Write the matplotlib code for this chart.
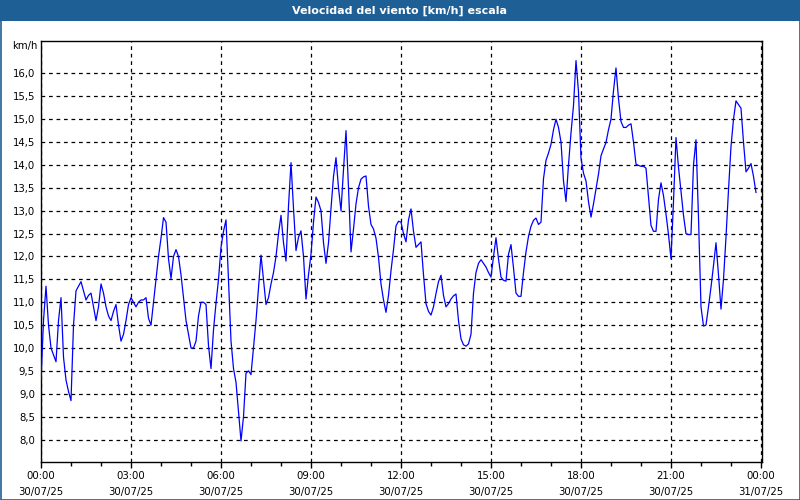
import matplotlib
matplotlib.use("Agg")
import matplotlib.pyplot as plt
import numpy as np
from matplotlib.patches import Rectangle
from matplotlib.ticker import MultipleLocator, FixedLocator, FuncFormatter

title = "Velocidad del viento [km/h] escala"
unit_label = "km/h"
interval_min = 5

# 5-minute wind speed readings, one row per hour (00:00 .. 23:50)
h00 = [9.3, 10.6, 11.35, 10.5, 10.0, 9.85, 9.7, 10.6, 11.1, 9.8, 9.3, 9.05]
h01 = [8.85, 10.5, 11.25, 11.35, 11.45, 11.25, 11.05, 11.15, 11.2, 10.9, 10.6, 10.9]
h02 = [11.4, 11.2, 10.9, 10.7, 10.6, 10.8, 10.95, 10.5, 10.15, 10.3, 10.6, 10.95]
h03 = [11.1, 11.0, 10.9, 11.0, 11.05, 11.05, 11.1, 10.65, 10.5, 11.0, 11.5, 12.0]
h04 = [12.4, 12.85, 12.75, 11.95, 11.52, 12.0, 12.15, 12.0, 11.6, 11.1, 10.6, 10.3]
h05 = [10.0, 10.0, 10.15, 10.7, 11.0, 11.0, 10.95, 10.05, 9.55, 10.4, 10.98, 11.5]
h06 = [12.2, 12.55, 12.8, 11.5, 10.15, 9.55, 9.25, 8.6, 7.97, 8.5, 9.45, 9.5]
h07 = [9.42, 10.0, 10.6, 11.3, 12.03, 11.5, 10.95, 11.1, 11.4, 11.65, 12.0, 12.5]
h08 = [12.9, 12.3, 11.9, 13.1, 14.05, 13.05, 12.13, 12.42, 12.56, 12.0, 11.07, 11.6]
h09 = [12.05, 12.75, 13.3, 13.18, 13.0, 12.3, 11.85, 12.3, 13.05, 13.75, 14.16, 13.5]
h10 = [13.0, 13.9, 14.75, 13.5, 12.1, 12.6, 13.15, 13.5, 13.69, 13.74, 13.76, 13.1]
h11 = [12.7, 12.6, 12.4, 11.98, 11.4, 11.05, 10.78, 11.15, 11.69, 12.15, 12.67, 12.77]
h12 = [12.75, 12.5, 12.32, 12.8, 13.04, 12.55, 12.2, 12.26, 12.32, 11.6, 10.97, 10.8]
h13 = [10.72, 10.9, 11.19, 11.45, 11.59, 11.15, 10.9, 10.97, 11.07, 11.14, 11.18, 10.6]
h14 = [10.2, 10.07, 10.04, 10.09, 10.3, 11.2, 11.65, 11.85, 11.93, 11.85, 11.77, 11.65]
h15 = [11.55, 12.0, 12.41, 11.95, 11.55, 11.48, 11.46, 12.05, 12.26, 11.75, 11.2, 11.13]
h16 = [11.13, 11.65, 12.1, 12.44, 12.66, 12.79, 12.84, 12.7, 12.75, 13.7, 14.1, 14.26]
h17 = [14.45, 14.77, 15.0, 14.82, 14.5, 13.65, 13.2, 14.0, 14.7, 15.3, 16.28, 15.6]
h18 = [14.15, 13.82, 13.65, 13.2, 12.86, 13.15, 13.47, 13.8, 14.2, 14.35, 14.49, 14.77]
h19 = [15.0, 15.62, 16.12, 15.45, 14.95, 14.82, 14.82, 14.87, 14.9, 14.5, 14.02, 13.99]
h20 = [13.97, 13.97, 13.93, 13.3, 12.68, 12.55, 12.55, 13.25, 13.61, 13.33, 12.93, 12.48]
h21 = [11.95, 13.2, 14.6, 13.95, 13.43, 12.9, 12.5, 12.48, 12.48, 14.0, 14.55, 12.85]
h22 = [10.9, 10.48, 10.5, 10.9, 11.33, 11.8, 12.3, 11.6, 10.85, 11.5, 12.42, 13.45]
h23 = [14.4, 15.0, 15.4, 15.32, 15.24, 14.5, 13.85, 13.93, 14.03, 13.75, 13.4]

wind_kmh = (h00 + h01 + h02 + h03 + h04 + h05 + h06 + h07 + h08 + h09 + h10 + h11 +
            h12 + h13 + h14 + h15 + h16 + h17 + h18 + h19 + h20 + h21 + h22 + h23)

y_ticks = [8.0, 8.5, 9.0, 9.5, 10.0, 10.5, 11.0, 11.5, 12.0, 12.5, 13.0,
           13.5, 14.0, 14.5, 15.0, 15.5, 16.0]
tick_hours = [0, 3, 6, 9, 12, 15, 18, 21, 24]
tick_labels = ["00:00\n30/07/25", "03:00\n30/07/25", "06:00\n30/07/25",
               "09:00\n30/07/25", "12:00\n30/07/25", "15:00\n30/07/25",
               "18:00\n30/07/25", "21:00\n30/07/25", "00:00\n31/07/25"]

hours = np.arange(len(wind_kmh)) * interval_min / 60.0

W, H = 800, 500
fig = plt.figure(figsize=(W / 100, H / 100), dpi=100)
fig.patch.set_facecolor("white")

bar_color = "#1e6096"
# title bar
fig.patches.append(Rectangle((0, 1 - 21 / H), 1, 21 / H, transform=fig.transFigure,
                             facecolor=bar_color, edgecolor="none", zorder=0))
# outer border
fig.patches.append(Rectangle((0.5 / W, 0.5 / H), 1 - 1 / W, 1 - 1 / H, transform=fig.transFigure,
                             facecolor="none", edgecolor=bar_color, linewidth=1.2, zorder=5))
fig.text(0.5, 1 - 10.5 / H, title, color="white", fontsize=8, fontweight="bold",
         ha="center", va="center", family="DejaVu Sans")

left, right, top, bottom = 40.5, 761.5, 40.5, 461.5
ax = fig.add_axes([left / W, 1 - bottom / H, (right - left) / W, (bottom - top) / H])
ax.plot(hours, wind_kmh, color="#0000ff", linewidth=0.9, zorder=3)

ax.set_xlim(-0.017, 24.017)
ax.set_ylim(7.52, 16.72)

ax.set_yticks(y_ticks)
ax.yaxis.set_major_formatter(FuncFormatter(lambda v, p: f"{v:.1f}".replace(".", ",")))

ax.xaxis.set_major_locator(FixedLocator(tick_hours))
ax.set_xticklabels(tick_labels)
ax.xaxis.set_minor_locator(MultipleLocator(1))

ax.tick_params(axis="y", length=0, pad=4, labelsize=7.3)
ax.tick_params(axis="x", which="major", length=4, width=1, pad=3, labelsize=7.3)
ax.tick_params(axis="x", which="minor", length=3, width=1)
for lbl in ax.get_xticklabels():
    lbl.set_linespacing(1.75)

ax.grid(True, which="major", color="black", linestyle=(0, (3, 3)), linewidth=0.9)
for s in ax.spines.values():
    s.set_color("black")
    s.set_linewidth(1.0)

fig.text(12 / W, 1 - 46 / H, unit_label, fontsize=7.3, ha="left", va="center")

fig.savefig("out.png", dpi=100, facecolor="white")
